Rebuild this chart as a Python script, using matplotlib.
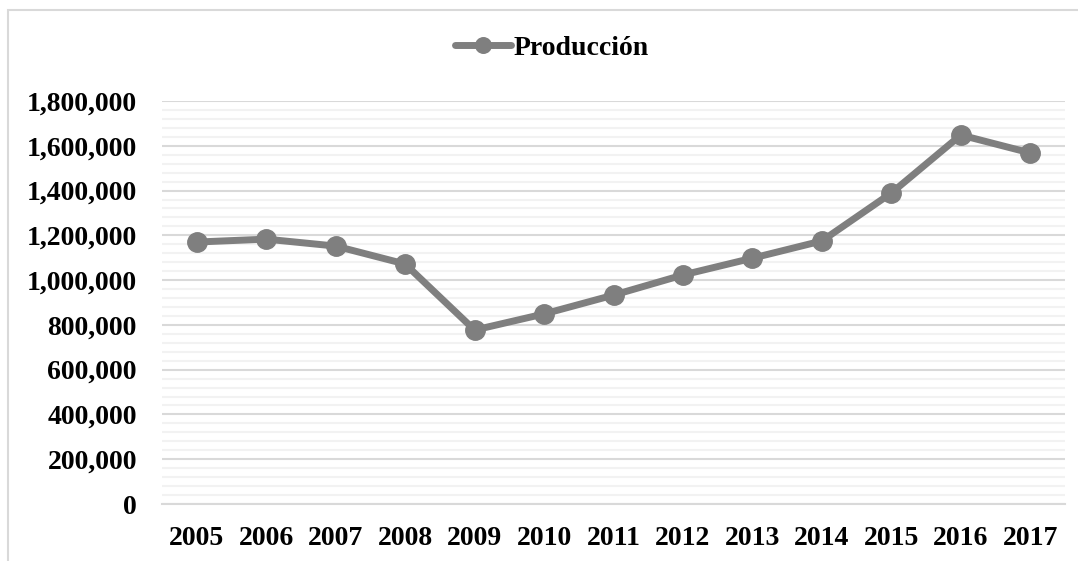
import matplotlib.pyplot as plt
from matplotlib.ticker import MultipleLocator, FuncFormatter
from matplotlib.patches import Rectangle

years = ['2005', '2006', '2007', '2008', '2009', '2010', '2011',
         '2012', '2013', '2014', '2015', '2016', '2017']
produccion = [1170000, 1183000, 1152000, 1072000, 777000, 849000, 933000,
              1023000, 1098000, 1175000, 1389000, 1648000, 1568000]

plt.rcParams['font.family'] = ['Liberation Serif', 'DejaVu Serif']
plt.rcParams['font.weight'] = 'bold'

fig = plt.figure(figsize=(10.78, 5.61), dpi=100)
ax = fig.add_axes([162/1078, 1-504/561, (1065-162)/1078, (504-101)/561])

# outer chart border (only left/top visible in reference)
fig.patches.append(Rectangle((8/1078, -0.1), 1.2, 1-10/561+0.1, transform=fig.transFigure,
                             fill=False, edgecolor='#d9d9d9', linewidth=1.5))

x = range(len(years))
ax.plot(x, produccion, color='#7f7f7f', linewidth=5, marker='o', markersize=14,
        solid_capstyle='round', label='Producción', zorder=3)

ax.set_xlim(-0.5, len(years) - 0.5)
ax.set_ylim(0, 1800000)
ax.yaxis.set_major_locator(MultipleLocator(200000))
ax.yaxis.set_minor_locator(MultipleLocator(40000))
ax.yaxis.set_major_formatter(FuncFormatter(lambda v, p: f'{int(v):,}'))
ax.set_xticks(list(x))
ax.set_xticklabels(years)

ax.grid(axis='y', which='major', color='#d9d9d9', linewidth=1.5)
ax.grid(axis='y', which='minor', color='#f2f2f2', linewidth=1.5)
ax.set_axisbelow(True)
for s in ax.spines.values():
    s.set_visible(False)
ax.spines['bottom'].set_visible(True)
ax.spines['bottom'].set_color('#d9d9d9')
ax.spines['bottom'].set_linewidth(1.5)
ax.tick_params(axis='both', which='both', length=0, labelsize=20)
ax.tick_params(axis='y', pad=18)
ax.tick_params(axis='x', pad=16)

ax.legend(loc='center', bbox_to_anchor=(552/1078, 1-48/561), bbox_transform=fig.transFigure,
          frameon=False, fontsize=20, handlelength=2.0, handletextpad=0.1,
          markerscale=0.8)

fig.savefig('out.png', dpi=100)
